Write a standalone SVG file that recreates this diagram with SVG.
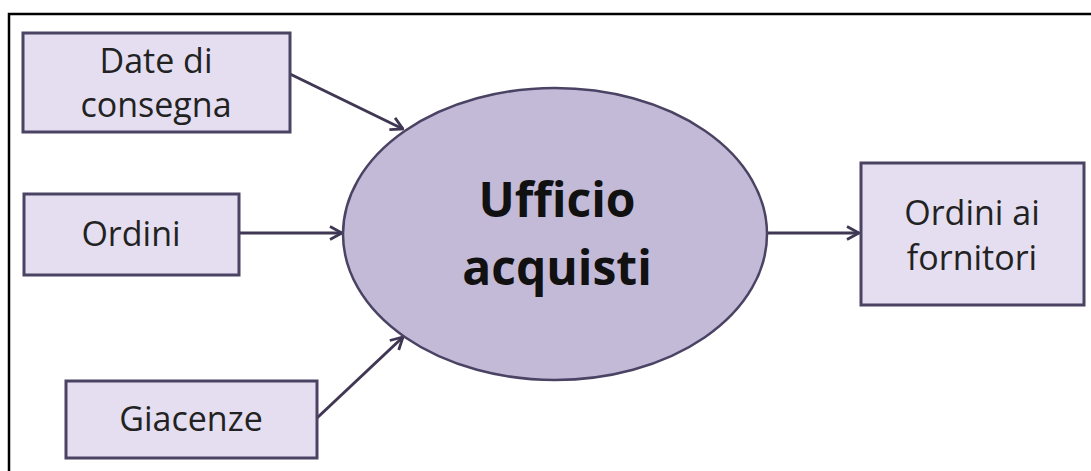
<svg xmlns="http://www.w3.org/2000/svg" width="1091" height="471" viewBox="0 0 1091 471">
<style>
.box{fill:#e4def0;stroke:#4b4363;stroke-width:3}
.ell{fill:#c3bad8;stroke:#4b4363;stroke-width:2.5}
.lbl{font-family:"Open Sans","Liberation Sans",sans-serif;font-size:34px;fill:#222;text-anchor:middle}
.big{font-family:"Open Sans","Liberation Sans",sans-serif;font-size:48px;font-weight:bold;fill:#111;text-anchor:middle}
.conn{stroke:#3f3753;stroke-width:3;fill:none;marker-end:url(#arr)}
</style>
<defs>
<marker id="arr" viewBox="0 0 14 16" refX="13" refY="8" markerWidth="14" markerHeight="16" markerUnits="userSpaceOnUse" orient="auto">
<path d="M1,1.5 L13,8 L1,14.5" fill="none" stroke="#3f3753" stroke-width="2.8"/>
</marker>
</defs>
<rect width="1091" height="471" fill="#fff"/>
<path d="M9,471 V14 H1091" fill="none" stroke="#000" stroke-width="2.5"/>
<g id="connectors">
<line class="conn" x1="290" y1="74" x2="403" y2="129"/>
<line class="conn" x1="239" y1="233" x2="342" y2="233"/>
<line class="conn" x1="317" y1="418" x2="403" y2="337"/>
<line class="conn" x1="767" y1="233" x2="859" y2="233"/>
</g>
<g id="node-date">
<rect class="box" x="23" y="33" width="267" height="99"/>
<text class="lbl" x="156" y="73">Date di</text>
<text class="lbl" x="156" y="117">consegna</text>
</g>
<g id="node-ordini">
<rect class="box" x="24" y="194" width="215" height="81"/>
<text class="lbl" x="131" y="246">Ordini</text>
</g>
<g id="node-giacenze">
<rect class="box" x="66" y="381" width="251" height="77"/>
<text class="lbl" x="191" y="431">Giacenze</text>
</g>
<g id="node-ufficio">
<ellipse class="ell" cx="555" cy="234" rx="212" ry="146"/>
<text class="big" x="557" y="217">Ufficio</text>
<text class="big" x="557" y="285">acquisti</text>
</g>
<g id="node-fornitori">
<rect class="box" x="861" y="163" width="223" height="142"/>
<text class="lbl" x="972" y="225">Ordini ai</text>
<text class="lbl" x="972" y="270">fornitori</text>
</g>
</svg>
